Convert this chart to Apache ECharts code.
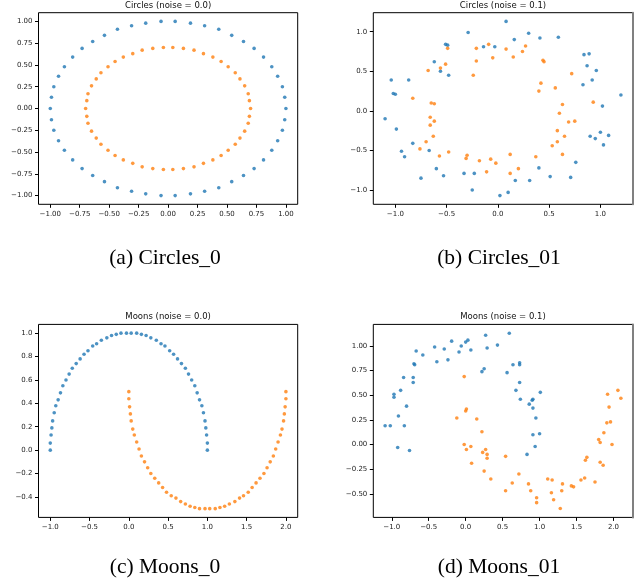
<!DOCTYPE html>
<html>
<head>
<meta charset="utf-8">
<title>Circles and Moons</title>
<script src="https://cdn.jsdelivr.net/npm/echarts@6/dist/echarts.min.js"></script>
<style>
html,body{margin:0;padding:0;background:#fff;}
#main{width:641px;height:582px;}
</style>
</head>
<body>
<div id="main"></div>
<script type="text/javascript">
// (a) circles, noise 0.0
var circles0Outer = [[1.00,0.00],[0.99,0.13],[0.97,0.25],[0.93,0.37],[0.88,0.48],[0.81,0.59],[0.73,0.69],[0.64,0.77],[0.54,0.84],[0.43,0.91],[0.31,0.95],[0.19,0.98],[0.06,1.00],
	[-0.06,1.00],[-0.19,0.98],[-0.31,0.95],[-0.43,0.91],[-0.54,0.84],[-0.64,0.77],[-0.73,0.69],[-0.81,0.59],[-0.88,0.48],[-0.93,0.37],[-0.97,0.25],[-0.99,0.13],[-1.00,0.00],
	[-0.99,-0.13],[-0.97,-0.25],[-0.93,-0.37],[-0.88,-0.48],[-0.81,-0.59],[-0.73,-0.69],[-0.64,-0.77],[-0.54,-0.84],[-0.43,-0.91],[-0.31,-0.95],[-0.19,-0.98],[-0.06,-1.00],
	[0.06,-1.00],[0.19,-0.98],[0.31,-0.95],[0.43,-0.91],[0.54,-0.84],[0.64,-0.77],[0.73,-0.69],[0.81,-0.59],[0.88,-0.48],[0.93,-0.37],[0.97,-0.25],[0.99,-0.13]];
var circles0Inner = [[0.70,0.00],[0.69,0.09],[0.68,0.17],[0.65,0.26],[0.61,0.34],[0.57,0.41],[0.51,0.48],[0.45,0.54],[0.38,0.59],[0.30,0.63],[0.22,0.67],[0.13,0.69],[0.04,0.70],
	[-0.04,0.70],[-0.13,0.69],[-0.22,0.67],[-0.30,0.63],[-0.38,0.59],[-0.45,0.54],[-0.51,0.48],[-0.57,0.41],[-0.61,0.34],[-0.65,0.26],[-0.68,0.17],[-0.69,0.09],[-0.70,0.00],
	[-0.69,-0.09],[-0.68,-0.17],[-0.65,-0.26],[-0.61,-0.34],[-0.57,-0.41],[-0.51,-0.48],[-0.45,-0.54],[-0.38,-0.59],[-0.30,-0.63],[-0.22,-0.67],[-0.13,-0.69],[-0.04,-0.70],
	[0.04,-0.70],[0.13,-0.69],[0.22,-0.67],[0.30,-0.63],[0.38,-0.59],[0.45,-0.54],[0.51,-0.48],[0.57,-0.41],[0.61,-0.34],[0.65,-0.26],[0.68,-0.17],[0.69,-0.09]];

// (b) circles, noise 0.1
var circles01Blue = [[-1.10,-0.10],[-1.04,0.39],[-1.02,0.22],[-1.00,0.21],[-0.99,-0.23],[-0.94,-0.51],[-0.91,-0.58],[-0.87,0.39],[-0.83,-0.41],[-0.75,-0.85],
	[-0.67,-0.50],[-0.62,0.62],[-0.60,-0.73],[-0.56,0.50],[-0.53,-0.82],[-0.51,0.84],[-0.49,0.83],[-0.48,0.45],[-0.33,-0.79],[-0.29,0.99],
	[-0.25,-1.00],[-0.23,-0.79],[-0.14,0.81],[-0.03,0.81],[0.02,-1.07],[0.08,1.13],[0.10,-1.03],[0.16,0.90],[0.17,-0.88],[0.30,0.98],
	[0.31,-0.88],[0.40,-0.72],[0.41,0.92],[0.51,-0.83],[0.59,0.93],[0.71,-0.84],[0.76,-0.65],[0.83,0.33],[0.84,0.71],[0.87,0.57],
	[0.89,0.72],[0.90,-0.32],[0.92,0.39],[0.95,-0.35],[0.96,0.51],[1.00,-0.27],[1.02,0.06],[1.03,-0.43],[1.08,-0.31],[1.20,0.20]];
var circles01Orange = [[-0.83,0.16],[-0.76,-0.48],[-0.70,-0.39],[-0.68,0.51],[-0.66,-0.08],[-0.66,-0.18],[-0.65,0.10],[-0.62,0.09],[-0.63,-0.32],[-0.62,-0.13],
	[-0.57,-0.57],[-0.56,0.54],[-0.51,0.59],[-0.49,0.79],[-0.48,-0.52],[-0.31,-0.60],[-0.30,-0.56],[-0.24,0.45],[-0.21,0.79],[-0.21,0.63],
	[-0.18,-0.63],[-0.09,0.84],[-0.07,-0.61],[-0.05,0.67],[-0.11,-0.77],[-0.02,-0.66],[0.08,0.78],[0.12,-0.79],[0.12,-0.55],[0.15,0.68],
	[0.20,-0.73],[0.24,0.75],[0.27,0.82],[0.37,-0.58],[0.40,0.25],[0.42,0.35],[0.44,0.64],[0.45,0.62],[0.53,-0.44],[0.56,0.29],
	[0.58,-0.25],[0.58,-0.39],[0.60,-0.03],[0.63,0.08],[0.63,-0.55],[0.65,-0.32],[0.69,-0.14],[0.72,0.47],[0.75,-0.13],[0.93,0.11]];

// (c) moons, noise 0.0
var moons0Upper = [[1.00,0.00],[1.00,0.06],[0.99,0.13],[0.98,0.19],[0.97,0.25],[0.95,0.32],[0.93,0.38],[0.90,0.43],[0.87,0.49],[0.84,0.55],[0.80,0.60],[0.76,0.65],[0.72,0.70],
	[0.67,0.74],[0.62,0.78],[0.57,0.82],[0.52,0.85],[0.46,0.89],[0.41,0.91],[0.35,0.94],[0.28,0.96],[0.22,0.98],[0.16,0.99],[0.10,1.00],[0.03,1.00],
	[-0.03,1.00],[-0.10,1.00],[-0.16,0.99],[-0.22,0.98],[-0.28,0.96],[-0.35,0.94],[-0.41,0.91],[-0.46,0.89],[-0.52,0.85],[-0.57,0.82],[-0.62,0.78],[-0.67,0.74],
	[-0.72,0.70],[-0.76,0.65],[-0.80,0.60],[-0.84,0.55],[-0.87,0.49],[-0.90,0.43],[-0.93,0.38],[-0.95,0.32],[-0.97,0.25],[-0.98,0.19],[-0.99,0.13],[-1.00,0.06],[-1.00,0.00]];
var moons0Lower = [[0.00,0.50],[0.00,0.44],[0.01,0.37],[0.02,0.31],[0.03,0.25],[0.05,0.18],[0.07,0.13],[0.10,0.07],[0.13,0.01],[0.16,-0.05],[0.20,-0.10],[0.24,-0.15],[0.28,-0.20],
	[0.33,-0.24],[0.38,-0.28],[0.43,-0.32],[0.48,-0.36],[0.54,-0.39],[0.60,-0.41],[0.66,-0.44],[0.72,-0.46],[0.78,-0.48],[0.84,-0.49],[0.90,-0.50],[0.97,-0.50],
	[1.03,-0.50],[1.10,-0.50],[1.16,-0.49],[1.22,-0.48],[1.28,-0.46],[1.35,-0.44],[1.41,-0.41],[1.46,-0.39],[1.52,-0.36],[1.57,-0.32],[1.62,-0.28],[1.67,-0.24],
	[1.72,-0.20],[1.76,-0.15],[1.80,-0.10],[1.84,-0.05],[1.87,0.01],[1.90,0.07],[1.93,0.13],[1.95,0.18],[1.97,0.25],[1.98,0.31],[1.99,0.37],[2.00,0.44],[2.00,0.50]];

// (d) moons, noise 0.1
var moons01Blue = [[-1.09,0.19],[-1.02,0.19],[-0.97,0.51],[-0.97,0.48],[-0.92,-0.03],[-0.91,0.29],[-0.88,0.55],[-0.84,0.68],[-0.83,0.19],[-0.80,0.39],
	[-0.76,-0.06],[-0.71,0.63],[-0.71,0.68],[-0.70,0.82],[-0.69,0.81],[-0.67,0.95],[-0.58,0.91],[-0.42,0.99],[-0.39,0.84],[-0.29,0.97],
	[-0.24,0.86],[-0.19,1.05],[-0.09,0.94],[-0.06,1.00],[0.00,1.04],[0.03,1.06],[0.07,0.96],[0.22,0.74],[0.25,0.77],[0.27,1.11],
	[0.29,0.98],[0.43,1.01],[0.56,0.73],[0.59,1.13],[0.64,0.81],[0.68,0.55],[0.73,0.83],[0.73,0.81],[0.73,0.63],[0.74,0.46],
	[0.86,0.41],[0.90,0.45],[0.91,0.46],[0.91,0.37],[0.91,0.10],[0.95,0.27],[0.94,-0.02],[1.00,0.11],[1.01,0.53],[0.83,-0.10]];
var moons01Orange = [[-0.12,0.27],[-0.02,0.69],[-0.02,0.00],[0.00,0.34],[0.01,0.36],[0.01,-0.05],[0.07,-0.02],[0.08,-0.19],[0.15,0.26],[0.22,0.13],
	[0.23,-0.08],[0.25,-0.27],[0.27,-0.05],[0.29,-0.10],[0.29,-0.14],[0.34,-0.35],[0.54,-0.12],[0.54,-0.47],[0.63,-0.39],[0.72,-0.30],
	[0.85,-0.40],[0.88,-0.47],[0.96,-0.54],[0.96,-0.59],[1.11,-0.35],[1.16,-0.49],[1.17,-0.36],[1.19,-0.56],[1.28,-0.65],[1.31,-0.40],
	[1.30,-0.47],[1.43,-0.42],[1.46,-0.43],[1.56,-0.36],[1.61,-0.34],[1.62,-0.16],[1.64,-0.13],[1.75,-0.38],[1.80,0.05],[1.82,0.02],
	[1.82,-0.18],[1.86,-0.21],[1.87,0.12],[1.91,0.22],[1.92,0.51],[1.94,0.38],[1.96,0.23],[1.98,0.00],[2.06,0.55],[2.10,0.47]];

// tick values
var ticksQuarter = [-1, -0.75, -0.5, -0.25, 0, 0.25, 0.5, 0.75, 1];
var ticksHalf = [-1, -0.5, 0, 0.5, 1];
var ticksMoonsX = [-1, -0.5, 0, 0.5, 1, 1.5, 2];
var ticksMoonsY0 = [-0.4, -0.2, 0, 0.2, 0.4, 0.6, 0.8, 1];
var ticksMoonsY1 = [-0.5, -0.25, 0, 0.25, 0.5, 0.75, 1];

var BLUE = '#1f77b4', ORANGE = '#ff7f0e';

var panels = [
	{title:'Circles (noise = 0.0)', caption:'(a) Circles_0', left:38.5, top:12.7, width:259.2, height:191.6, capX:165, capY:258.5,
		xr:[-1.1,1.1], yr:[-1.1,1.1], xt:ticksQuarter, yt:ticksQuarter, xd:2, yd:2, a:circles0Outer, b:circles0Inner, edge:false},
	{title:'Circles (noise = 0.1)', caption:'(b) Circles_01', left:373.3, top:12.7, width:259.4, height:191.6, capX:499, capY:258.5,
		xr:[-1.215,1.315], yr:[-1.18,1.24], xt:ticksHalf, yt:ticksHalf, xd:1, yd:1, a:circles01Blue, b:circles01Orange, edge:true},
	{title:'Moons (noise = 0.0)', caption:'(c) Moons_0', left:38.5, top:324.4, width:259.2, height:193, capX:165, capY:567.5,
		xr:[-1.15,2.15], yr:[-0.575,1.075], xt:ticksMoonsX, yt:ticksMoonsY0, xd:1, yd:1, a:moons0Upper, b:moons0Lower, edge:false},
	{title:'Moons (noise = 0.1)', caption:'(d) Moons_01', left:373.3, top:324.4, width:259.4, height:193, capX:499, capY:567.5,
		xr:[-1.25,2.26], yr:[-0.74,1.22], xt:ticksMoonsX, yt:ticksMoonsY1, xd:1, yd:2, a:moons01Blue, b:moons01Orange, edge:true}
];

function fmt(d){
	return function(v){ return v.toFixed(d).replace('-', '\u2212'); };
}

var grids = [], xAxes = [], yAxes = [], series = [], graphics = [];
panels.forEach(function(p, i){
	grids.push({left:p.left, top:p.top, width:p.width, height:p.height, show:true, borderColor:'#000', borderWidth:1, backgroundColor:'transparent'});
	xAxes.push({
		type:'value', gridIndex:i, min:p.xr[0], max:p.xr[1], position:'bottom',
		axisLine:{show:false, onZero:false}, splitLine:{show:false},
		axisTick:{show:true, length:3.5, customValues:p.xt, lineStyle:{color:'#000', width:1}},
		axisLabel:{customValues:p.xt, formatter:fmt(p.xd), fontFamily:'DejaVu Sans', fontSize:7, color:'#222', margin:6}
	});
	var yi = yAxes.length;
	yAxes.push({
		type:'value', gridIndex:i, min:p.yr[0], max:p.yr[1], position:'left',
		axisLine:{show:false, onZero:false}, splitLine:{show:false},
		axisTick:{show:true, length:3.5, customValues:p.yt, lineStyle:{color:'#000', width:1}},
		axisLabel:{customValues:p.yt, formatter:fmt(p.yd), fontFamily:'DejaVu Sans', fontSize:7, color:'#222', margin:6}
	});
	if(p.edge){
		// the grey right border seen on the right-hand panels
		yAxes.push({
			type:'value', gridIndex:i, min:p.yr[0], max:p.yr[1], position:'right',
			axisLine:{show:true, onZero:false, lineStyle:{color:'#808080', width:2}},
			axisTick:{show:false}, axisLabel:{show:false}, splitLine:{show:false}
		});
	}
	series.push({type:'scatter', xAxisIndex:i, yAxisIndex:yi, data:p.a, symbolSize:3.6, itemStyle:{color:BLUE}, silent:true});
	series.push({type:'scatter', xAxisIndex:i, yAxisIndex:yi, data:p.b, symbolSize:3.6, itemStyle:{color:ORANGE}, silent:true});
	graphics.push({type:'text', x:p.left + p.width/2, y:p.top - 7.3, silent:true,
		style:{text:p.title, font:'8.5px "DejaVu Sans"', fill:'#111', textAlign:'center', textVerticalAlign:'middle', align:'center', verticalAlign:'middle'}});
	graphics.push({type:'text', x:p.capX, y:p.capY, silent:true,
		style:{text:p.caption, font:'21.5px "Liberation Serif"', fill:'#000', textAlign:'center', textVerticalAlign:'middle', align:'center', verticalAlign:'middle'}});
});

var myChart = echarts.init(document.getElementById('main'), null, {renderer:'canvas'});
myChart.setOption({
	animation:false,
	backgroundColor:'#fff',
	grid:grids,
	xAxis:xAxes,
	yAxis:yAxes,
	series:series,
	graphic:graphics
});
</script>
</body>
</html>
